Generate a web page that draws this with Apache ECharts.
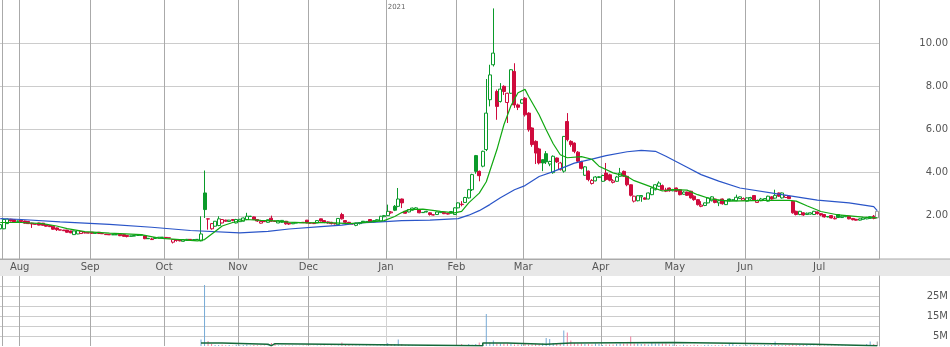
<!DOCTYPE html>
<html><head><meta charset="utf-8">
<script src="https://cdn.jsdelivr.net/npm/echarts@6/dist/echarts.min.js"></script>
<style>html,body{margin:0;padding:0;background:#fff}#c{width:950px;height:347px}</style>
</head><body><div id="c"></div>
<script>
// ---------- data ----------
const monthNames = ['Jan','Feb','Mar','Apr','May','Jun','Jul','Aug','Sep','Oct','Nov','Dec'];
const firstDay = '2020-07-24', lastDay = '2021-07-26';
const nonTradingDays = ['2020-08-03','2020-09-07','2020-10-12','2020-11-26','2020-12-25','2021-01-01',
  '2021-02-15','2021-03-19','2021-04-02','2021-05-31','2021-06-18','2021-07-05'];
const priceTicks = [2, 4, 6, 8, 10];
const volumeTicks = [5, 15, 25];

// [open, close, low, high]
const ohlc = [
[1.40,1.59,1.38,1.62],[1.40,1.83,1.38,1.85],[1.64,1.85,1.62,1.87],[1.84,1.76,1.74,1.86],[1.82,1.72,1.70,1.84],
[1.76,1.75,1.73,1.78],[1.80,1.74,1.72,1.82],[1.76,1.66,1.64,1.78],[1.74,1.64,1.62,1.75],[1.66,1.62,1.44,1.68],
[1.62,1.61,1.60,1.63],[1.67,1.57,1.56,1.68],[1.66,1.56,1.55,1.67],[1.58,1.52,1.50,1.60],[1.55,1.50,1.48,1.56],
[1.52,1.38,1.36,1.53],[1.44,1.36,1.30,1.46],[1.35,1.34,1.33,1.36],[1.34,1.31,1.30,1.35],[1.34,1.24,1.22,1.35],
[1.30,1.21,1.20,1.31],[1.13,1.30,1.12,1.31],[1.16,1.31,1.15,1.32],[1.18,1.27,1.17,1.28],[1.22,1.21,1.19,1.23],
[1.22,1.20,1.19,1.22],[1.24,1.19,1.17,1.25],[1.20,1.19,1.18,1.20],[1.24,1.18,1.16,1.25],[1.18,1.17,1.16,1.18],
[1.15,1.13,1.12,1.15],[1.14,1.12,1.11,1.14],[1.13,1.12,1.11,1.13],[1.12,1.13,1.12,1.14],[1.15,1.08,1.06,1.16],
[1.13,1.05,1.04,1.14],[1.09,1.04,1.00,1.10],[1.05,1.07,1.04,1.08],[1.06,1.09,1.05,1.10],[1.09,1.10,1.08,1.11],
[1.10,1.12,1.09,1.13],[1.08,0.94,0.92,1.09],[0.96,0.94,0.93,0.97],[0.90,0.93,0.88,0.98],[0.95,1.00,0.94,1.01],
[0.97,1.01,0.96,1.02],[1.00,1.01,0.99,1.02],[1.00,0.99,0.98,1.00],[0.98,0.97,0.96,0.98],[0.78,0.90,0.72,0.92],
[0.90,0.86,0.80,0.91],[0.88,0.84,0.82,0.90],[0.82,0.90,0.80,0.92],[0.86,0.91,0.84,0.93],[0.91,0.88,0.86,0.92],
[0.87,0.90,0.86,0.92],[0.90,0.91,0.89,0.92],[0.84,1.16,0.82,1.98],[3.06,2.29,1.90,4.10],[1.86,1.85,1.36,1.87],
[1.40,1.64,1.36,1.66],[1.52,1.75,1.50,1.76],[1.55,1.86,1.52,1.98],[1.67,1.83,1.65,1.84],[1.80,1.75,1.73,1.82],
[1.74,1.80,1.72,1.81],[1.83,1.78,1.75,1.84],[1.67,1.83,1.65,1.86],[1.73,1.84,1.72,1.85],[1.75,1.90,1.74,1.92],
[1.83,1.98,1.80,2.14],[1.97,1.98,1.95,2.00],[1.95,1.83,1.82,1.97],[1.83,1.76,1.72,1.84],[1.66,1.74,1.64,1.75],
[1.74,1.73,1.72,1.75],[1.70,1.82,1.68,1.83],[1.89,1.75,1.73,2.01],[1.76,1.74,1.72,1.77],[1.67,1.78,1.66,1.80],
[1.70,1.79,1.68,1.80],[1.75,1.63,1.59,1.76],[1.66,1.62,1.58,1.67],[1.63,1.67,1.62,1.68],[1.66,1.69,1.65,1.70],
[1.68,1.69,1.67,1.70],[1.70,1.68,1.67,1.71],[1.80,1.67,1.66,1.81],[1.67,1.66,1.64,1.68],[1.66,1.64,1.62,1.67],
[1.67,1.78,1.66,1.79],[1.86,1.76,1.74,1.87],[1.78,1.70,1.66,1.80],[1.72,1.67,1.64,1.74],[1.70,1.64,1.60,1.72],
[1.64,1.63,1.60,1.65],[1.59,1.88,1.57,1.90],[2.06,1.86,1.83,2.14],[1.78,1.70,1.59,1.80],[1.70,1.66,1.62,1.72],
[1.64,1.62,1.60,1.65],[1.56,1.66,1.52,1.68],[1.64,1.68,1.60,1.70],[1.75,1.70,1.66,1.76],[1.70,1.74,1.68,1.76],
[1.83,1.72,1.70,1.84],[1.72,1.78,1.70,1.80],[1.77,1.82,1.75,1.84],[1.75,1.98,1.74,2.00],[1.96,2.01,1.94,2.04],
[2.01,2.21,2.00,2.52],[2.14,2.18,2.10,2.22],[2.44,2.26,2.22,2.50],[2.44,2.78,2.40,3.29],[2.78,2.60,2.36,2.80],
[2.21,2.12,2.10,2.22],[2.18,2.29,2.16,2.30],[2.26,2.36,2.24,2.38],[2.30,2.37,2.28,2.40],[2.29,2.14,2.12,2.30],
[2.16,2.15,2.13,2.17],[2.18,2.21,2.16,2.23],[2.14,2.06,2.01,2.16],[2.05,2.04,2.02,2.06],[2.06,2.18,2.05,2.20],
[2.15,2.19,2.13,2.20],[2.16,2.10,2.08,2.17],[2.12,2.08,2.06,2.13],[2.12,2.20,2.10,2.22],[2.06,2.37,2.05,2.40],
[2.37,2.60,2.35,2.62],[2.52,2.54,2.44,2.68],[2.62,2.85,2.60,2.88],[2.83,3.21,2.80,3.25],[3.21,3.91,3.15,3.95],
[4.79,4.06,3.95,4.82],[4.06,3.86,3.60,4.10],[4.30,4.99,4.25,5.02],[5.07,6.76,5.00,8.34],[7.38,8.53,7.07,9.00],
[9.00,9.54,8.92,11.61],[7.76,7.07,6.45,7.85],[7.30,7.87,7.25,8.15],[8.00,7.76,7.60,8.05],[7.25,7.68,6.30,7.70],
[7.68,8.77,7.65,8.80],[8.69,7.14,7.00,9.07],[7.14,7.03,6.90,7.20],[7.22,7.38,7.20,7.42],[7.45,6.68,6.60,7.50],
[6.76,5.99,5.90,6.80],[6.07,5.30,5.20,6.10],[5.45,4.91,4.40,5.50],[5.10,4.45,4.38,5.15],[4.60,4.45,4.07,4.62],
[4.88,4.50,4.40,5.00],[4.40,4.52,4.30,4.55],[4.00,4.76,3.95,4.80],[4.68,4.50,4.45,4.70],[4.14,4.45,4.10,4.50],
[4.07,5.68,4.00,5.70],[6.37,5.53,5.45,6.76],[5.45,5.30,5.20,5.50],[5.37,4.99,4.90,5.40],[4.95,4.53,4.45,5.00],
[4.50,4.20,4.15,4.55],[3.88,4.27,3.85,4.30],[4.07,3.68,3.60,4.10],[3.50,3.64,3.45,3.70],[3.62,3.80,3.60,3.84],
[3.78,3.81,3.75,3.83],[3.60,3.87,3.58,3.90],[3.98,3.68,3.62,4.45],[3.90,3.65,3.60,3.95],[3.55,3.62,3.50,3.70],
[3.60,3.80,3.58,3.85],[3.83,3.98,3.80,4.22],[4.06,3.83,3.80,4.10],[3.83,3.44,3.37,3.86],[3.44,2.95,2.90,3.46],
[2.68,2.91,2.62,2.93],[2.70,2.93,2.67,2.95],[2.88,2.94,2.65,2.96],[2.83,2.77,2.75,2.86],[2.78,3.06,2.76,3.08],
[2.98,3.29,2.96,3.31],[3.21,3.44,3.18,3.46],[3.37,3.52,3.35,3.60],[3.40,3.21,3.18,3.45],[3.14,3.20,3.10,3.30],
[3.29,3.16,3.12,3.31],[3.16,3.22,3.14,3.25],[3.29,3.14,3.10,3.31],[3.21,2.98,2.95,3.23],[3.00,3.10,2.98,3.14],
[3.10,2.95,2.92,3.12],[3.14,2.83,2.80,3.16],[2.91,2.75,2.70,2.95],[2.75,2.52,2.48,2.78],[2.44,2.50,2.40,2.68],
[2.48,2.60,2.45,2.62],[2.60,2.83,2.58,2.85],[2.70,2.88,2.67,2.91],[2.78,2.62,2.58,2.80],[2.60,2.70,2.45,2.74],
[2.78,2.56,2.52,2.80],[2.52,2.70,2.50,2.72],[2.78,2.70,2.68,2.80],[2.74,2.72,2.70,2.76],[2.70,2.86,2.68,2.98],
[2.80,2.88,2.78,2.90],[2.72,2.80,2.70,2.85],[2.68,2.83,2.66,2.85],[2.78,2.85,2.75,2.88],[2.94,2.72,2.70,2.96],
[2.62,2.70,2.60,2.75],[2.70,2.78,2.68,2.83],[2.72,2.80,2.70,2.82],[2.68,2.91,2.66,2.93],[2.88,2.78,2.75,2.91],
[2.82,2.95,2.80,3.21],[3.06,2.91,2.88,3.08],[2.83,3.06,2.80,3.08],[2.85,2.94,2.83,2.96],[2.90,2.80,2.78,2.92],
[2.67,2.14,2.10,2.70],[2.21,2.06,2.02,2.24],[2.06,2.21,2.03,2.23],[2.14,2.04,2.00,2.16],[2.06,2.12,2.04,2.15],
[2.08,2.14,2.06,2.16],[2.06,2.21,2.04,2.23],[2.18,2.10,2.06,2.20],[2.10,2.04,2.00,2.12],[2.06,1.95,1.92,2.08],
[1.97,1.95,1.93,1.99],[2.01,1.90,1.88,2.03],[1.86,1.89,1.84,1.98],[2.06,1.92,1.90,2.08],[1.92,1.98,1.90,2.02],
[1.96,2.00,1.94,2.03],[1.98,1.86,1.84,2.00],[1.88,1.82,1.79,1.90],[1.84,1.80,1.78,1.86],[1.80,1.86,1.78,1.88],
[1.84,1.90,1.82,1.92],[1.86,1.92,1.84,1.95],[1.88,1.96,1.86,1.98],[1.98,1.88,1.84,2.04],[1.91,2.21,1.90,2.22]
];

// volume, millions of shares
const volume = [
0,0,0,0,0,0,0,0,0,0, 0,0,0,0,0,0,0,0,0,0, 0,0,0,0,0,0,0,0,0,0, 0,0,0,0,0,0,0,0,0,0, 0,0,0,0,0,0,0,0,0,0,
0,0,0,0,0,0,0,3.3,30.5,2.5, 1.0,0.5,0.5,0.6,0.4,0.5,0.3,0.6,0.4,0.5, 0.7,0.3,0.5,0.4,0.3,0.2,0.3,1.5,1.0,0.3,
0.2,0.3,0.2,0.2,0.1,0.1,0.2,0.3,0.1,0.1, 0.3,0.2,0.2,0.1,0.2,0.1,0.3,1.8,1.0,0.5, 0.2,0.2,0.2,0.1,0.2,0.2,0.1,0.2,0.3,1.0,
1.5,1.0,1.0,3.3,1.0,0.4,0.5,0.2,0.3,0.2, 0.1,0.1,0.2,0.1,0.2,0.3,0.1,0.1,0.3,0.5, 0.5,1.0,0.5,1.0,0.6,1.0,1.7,0.8,16.0,1.7,
2.7,1.3,1.3,1.3,1.3,1.0,0.8,0.8,0.8,1.0, 0.8,0.8,1.0,0.8,1.3,4.0,3.5,1.5,1.3,1.3, 7.8,6.7,2.7,1.5,1.3,1.3,1.0,1.0,0.8,1.3,
1.0,0.5,0.8,0.8,0.8,1.0,1.3,1.3,1.3,4.7, 1.3,1.3,1.0,1.0,0.8,1.7,1.3,1.3,1.3,1.3, 0.8,0.8,0.5,0.4,0.6,0.5,0.4,0.6,0.5,0.3,
0.5,0.6,0.4,0.5,0.4,0.6,0.5,1.0,1.0,0.4, 0.5,0.3,0.5,0.4,0.6,0.4,0.3,0.5,0.4,0.5, 2.2,0.5,0.4,0.5,0.6,0.9,0.5,0.5,0.5,0.5,
0.3,0.2,0.3,0.2,0.3,0.2,0.3,0.3,0.2,0.3, 0.3,0.2,0.3,0.3,0.2,0.4,1.0,2.2,1.0,2.3
];

// moving averages: [day index, value]
const maFast = [[0,1.69],[6,1.69],[12,1.64],[16,1.53],[19,1.41],[24,1.27],[31,1.20],[40,1.13],[45,0.97],[51,0.90],
[56,0.84],[58,0.90],[61,1.27],[63,1.53],[66,1.69],[70,1.83],[74,1.79],[78,1.77],[82,1.71],[87,1.67],[91,1.69],
[95,1.67],[99,1.64],[104,1.70],[109,1.78],[112,1.97],[114,2.15],[116,2.29],[120,2.31],[125,2.21],[129,2.14],
[131,2.21],[133,2.60],[136,3.05],[138,3.58],[141,5.06],[143,6.22],[145,7.10],[147,7.70],[149,7.86],[150,7.54],
[153,6.68],[155,5.99],[157,5.34],[159,4.83],[161,4.69],[165,4.74],[168,4.62],[170,4.30],[174,3.99],[178,3.82],
[180,3.63],[185,3.33],[188,3.15],[191,3.21],[195,3.19],[198,2.98],[202,2.77],[207,2.68],[217,2.72],[224,2.72],
[226,2.68],[229,2.47],[233,2.20],[238,2.04],[245,1.94],[249,1.91]];
const maSlow = [[0,1.87],[6,1.83],[17,1.72],[31,1.60],[43,1.47],[54,1.32],[68,1.21],[76,1.28],[82,1.39],[91,1.50],
[97,1.57],[102,1.67],[108,1.72],[114,1.78],[122,1.80],[130,1.87],[133,2.03],[136,2.24],[139,2.52],[142,2.84],
[146,3.21],[149,3.40],[153,3.82],[157,4.05],[163,4.44],[168,4.63],[172,4.79],[178,4.97],[182,5.03],[186,4.99],
[189,4.76],[195,4.25],[199,3.91],[204,3.61],[210,3.29],[222,2.98],[232,2.73],[241,2.60],[248,2.43],[249,2.24]];
const volumeMA = [[57,1.5],[63,0.85],[76,0.15],[77,1.15],[78,0.15],[137,1.5],[144,0.85],[155,1.5],[162,1.75],
[191,0.85],[231,0.15],[249,0.15]];

// ---------- categories ----------
const dates = [];
(function(){
  const d = new Date(firstDay + 'T00:00:00Z'), end = new Date(lastDay + 'T00:00:00Z');
  while (d <= end) {
    const s = d.toISOString().slice(0,10), wd = d.getUTCDay();
    if (wd !== 0 && wd !== 6 && nonTradingDays.indexOf(s) < 0) dates.push(s);
    d.setUTCDate(d.getUTCDate() + 1);
  }
})();
const monthStart = i => i > 0 && dates[i].slice(0,7) !== dates[i-1].slice(0,7);
const gridLineAt = i => i === 1 || monthStart(i);
const firstOf2021 = dates.findIndex(s => s.startsWith('2021'));

// ---------- styling ----------
const GREEN = '#0a9a2a', RED = '#cf0b3d', GRAY = '#9a9a9a';
const VBLUE = '#76aad6', VPINK = '#ee7f9f';
const FONT = 'DejaVu Sans';

const candleData = ohlc.map((d, i) => {
  const [o, c] = d;
  const prev = i ? ohlc[i-1][1] : o;
  let col = c >= prev ? GREEN : RED;
  if (i === ohlc.length - 1) col = GRAY;
  const fill = c > o ? '#ffffff' : col;
  return { value: d, itemStyle: { color: fill, color0: fill, borderColor: col, borderColor0: col, borderColorDoji: col } };
});
const volData = volume.map((v, i) => {
  const c = ohlc[i][1], prev = i ? ohlc[i-1][1] : ohlc[i][0];
  let col = c >= prev ? VBLUE : VPINK;
  if (i === ohlc.length - 1) col = GRAY;
  return { value: v, itemStyle: { color: col } };
});

const G_LEFT = -1.5, G_WIDTH = 880.5;
const volLineColors = ['#aaa','#aaa','#aaa','#aaa','#aaa','#aaa','#d2d2d2','#aaa','#aaa','#aaa','#aaa','#aaa','#aaa','#aaa'];

const chart = echarts.init(document.getElementById('c'), null, { renderer: 'canvas' });
chart.setOption({
  animation: false,
  backgroundColor: '#ffffff',
  textStyle: { fontFamily: FONT },
  graphic: [
    { type: 'rect', z: -10, silent: true, shape: { x: 0, y: 259, width: 950, height: 17 }, style: { fill: '#e8e8e8' } },
    { type: 'line', z: -9, silent: true, shape: { x1: 0, y1: 259, x2: 950, y2: 259 }, style: { stroke: '#aaaaaa', lineWidth: 1 } }
  ],
  grid: [
    { left: G_LEFT, width: G_WIDTH, top: 0, height: 259, containLabel: false, outerBoundsMode: 'none' },
    { left: G_LEFT, width: G_WIDTH, top: 276, height: 70, containLabel: false, outerBoundsMode: 'none' }
  ],
  xAxis: [
    { type: 'category', gridIndex: 0, data: dates, boundaryGap: true,
      axisLine: { show: true, lineStyle: { color: '#aaaaaa', width: 1 } },
      axisTick: { show: false },
      axisLabel: { interval: (i) => monthStart(i), formatter: (v) => monthNames[+v.slice(5,7) - 1],
        color: '#555', fontSize: 10, fontFamily: FONT, margin: 3, padding: [0, 3.5, 0, 0] },
      splitLine: { show: true, interval: (i) => gridLineAt(i), lineStyle: { color: '#aaaaaa', width: 1 } } },
    { type: 'category', gridIndex: 1, data: dates, boundaryGap: true,
      axisLine: { show: false }, axisTick: { show: false }, axisLabel: { show: false },
      splitLine: { show: true, interval: (i) => gridLineAt(i), lineStyle: { color: volLineColors, width: 1 } } },
    { type: 'category', gridIndex: 0, data: dates, boundaryGap: true, position: 'top',
      axisLine: { show: false }, axisTick: { show: false }, splitLine: { show: false },
      axisLabel: { inside: true, interval: (i) => i === firstOf2021, formatter: (v) => v.slice(0,4),
        color: '#666', fontSize: 7, fontFamily: FONT, margin: 4, align: 'left' } }
  ],
  yAxis: [
    { type: 'value', gridIndex: 0, position: 'right', min: 0, max: 12, interval: 2,
      axisLine: { show: true, lineStyle: { color: '#aaaaaa' } }, axisTick: { show: false },
      axisLabel: { margin: 69, align: 'right', color: '#555', fontSize: 10, fontFamily: FONT,
        formatter: (v) => priceTicks.indexOf(v) >= 0 ? v.toFixed(2) : '' },
      splitLine: { show: true, showMinLine: false, showMaxLine: false, lineStyle: { color: '#999', type: 'dotted', width: 1 } } },
    { type: 'value', gridIndex: 1, position: 'right', min: 0, max: 35, interval: 5,
      axisLine: { show: true, lineStyle: { color: '#aaaaaa' } }, axisTick: { show: false },
      axisLabel: { margin: 69, align: 'right', color: '#555', fontSize: 10, fontFamily: FONT,
        formatter: (v) => volumeTicks.indexOf(v) >= 0 ? v + 'M' : '' },
      splitLine: { show: true, showMinLine: false, showMaxLine: false, lineStyle: { color: '#999', type: 'dotted', width: 1 } } }
  ],
  series: [
    { type: 'candlestick', xAxisIndex: 0, yAxisIndex: 0, data: candleData, barWidth: 3.5, z: 2,
      itemStyle: { borderWidth: 1 } },
    { type: 'line', xAxisIndex: 0, yAxisIndex: 0, data: maSlow, symbol: 'none', z: 3, silent: true,
      lineStyle: { color: '#2a55c8', width: 1.2 } },
    { type: 'line', xAxisIndex: 0, yAxisIndex: 0, data: maFast, symbol: 'none', z: 3, silent: true,
      lineStyle: { color: '#11a811', width: 1.2 } },
    { type: 'bar', xAxisIndex: 1, yAxisIndex: 1, data: volData, barWidth: 1, z: 2, silent: true },
    { type: 'line', xAxisIndex: 1, yAxisIndex: 1, data: volumeMA, step: 'end', symbol: 'none', z: 3, silent: true,
      lineStyle: { color: '#15693a', width: 1.5 } }
  ]
});
</script>
</body></html>
